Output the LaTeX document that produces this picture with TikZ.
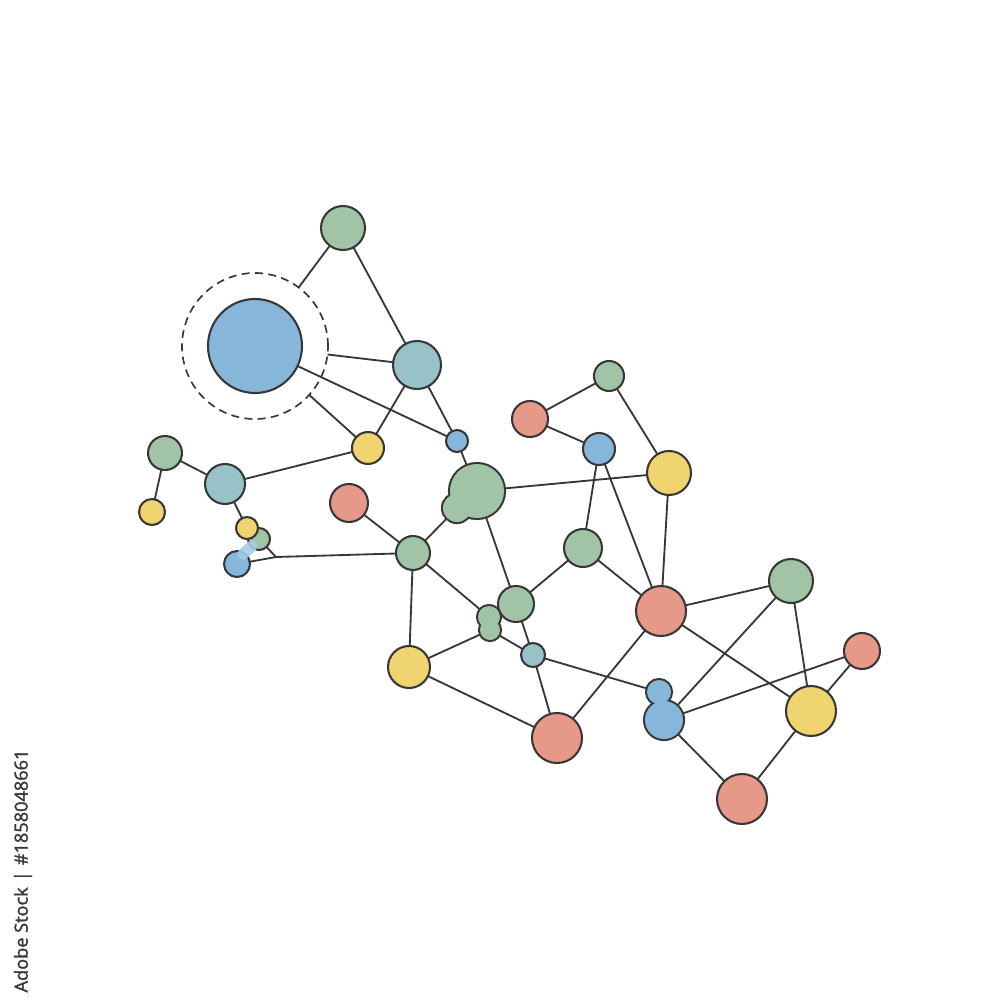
\documentclass[tikz,border=0pt]{standalone}
\usepackage{fontspec}
\newfontfamily\wmfont[FakeBold=1.6]{Open Sans}
\usetikzlibrary{backgrounds}
\definecolor{cblue}{RGB}{134,182,218}
\definecolor{cgreen}{RGB}{161,196,166}
\definecolor{cteal}{RGB}{150,194,200}
\definecolor{cyellow}{RGB}{240,212,112}
\definecolor{cred}{RGB}{230,153,137}
\definecolor{cstroke}{RGB}{55,55,55}
\definecolor{cbridge}{RGB}{165,203,230}
\tikzset{
  dot/.style 2 args={circle, inner sep=0pt, outer sep=0pt, minimum size=#2*0.6mm, fill=#1, draw=cstroke, line width=0.62mm},
  blob/.style 2 args={circle, inner sep=0pt, outer sep=0pt, minimum size=#2*0.6mm, fill=#1, draw=none},
  blobline/.style={draw=cstroke, line width=1.24mm},
  link/.style={draw=cstroke, line width=0.55mm},
}
\begin{document}
\begin{tikzpicture}[x=0.3mm,y=-0.3mm]
\useasboundingbox (0,0) rectangle (1000,1000);

% ring and big node
\node[circle, draw=cstroke, line width=0.5mm, dash pattern=on 2.4mm off 1.6mm, minimum size=73*0.6mm, inner sep=0pt, outer sep=0pt] (ring) at (255,346) {};
\node[dot={cblue}{47}] (bb) at (255,346) {};

\node[dot={cgreen}{22}] (g1) at (343,228) {};
\node[dot={cteal}{24}] (t1) at (417,365) {};
\node[dot={cyellow}{16}] (y1) at (368,448) {};
\node[dot={cblue}{11}] (sb1) at (457,441) {};
\node[blob={cgreen}{27}] (gc) at (477,491) {};
\node[blob={cgreen}{14}] (gcl) at (457,508) {};
\node[dot={cgreen}{17}] (g2) at (165,453) {};
\node[dot={cyellow}{13}] (y2) at (152,512) {};
\node[dot={cteal}{20}] (t2) at (225,484) {};
\node[dot={cgreen}{11}] (g3) at (259,539) {};
\node[dot={cyellow}{11}] (y3) at (247,528) {};
\node[dot={cblue}{13}] (b3) at (237,564) {};
\coordinate (j) at (276,557);
\node[dot={cred}{19}] (r1) at (349,503) {};
\node[dot={cgreen}{17}] (g4) at (413,553) {};
\node[dot={cyellow}{21}] (y4) at (409,667) {};
\node[blob={cgreen}{11}] (gp1) at (489,617) {};
\node[blob={cgreen}{10}] (gp2) at (490,630) {};
\node[dot={cgreen}{18}] (g5) at (516,604) {};
\node[dot={cteal}{12}] (t3) at (533,655) {};
\node[dot={cred}{25}] (r2) at (557,738) {};
\node[dot={cgreen}{19}] (g6) at (583,548) {};
\node[dot={cred}{18}] (r3) at (530,419) {};
\node[dot={cgreen}{15}] (g7) at (609,376) {};
\node[dot={cblue}{16}] (b4) at (599,449) {};
\node[dot={cyellow}{22}] (y5) at (669,473) {};
\node[dot={cred}{25}] (r4) at (661,611) {};
\node[dot={cgreen}{22}] (g8) at (791,581) {};
\node[dot={cred}{18}] (r5) at (862,651) {};
\node[dot={cyellow}{25}] (y6) at (811,711) {};
\node[dot={cred}{25}] (r6) at (742,799) {};
\node[blob={cblue}{12}] (bp1) at (659,692) {};
\node[blob={cblue}{19}] (bp2) at (664,720) {};

\begin{scope}[on background layer]
\path[link] (g1) -- (ring) (g1) -- (t1) (ring) -- (t1) (ring) -- (y1)
  (bb) -- (sb1) (t1) -- (y1) (t1) -- (sb1) (sb1) -- (gc) (y1) -- (t2)
  (g2) -- (t2) (g2) -- (y2) (t2) -- (y3) (gc) -- (y5) (gcl) -- (g4)
  (gc) -- (g5) (r1) -- (g4) (g4) -- (y4) (g4) -- (gp1)
  (b3) -- (j) (g3) -- (j) (j) -- (g4)
  (y4) -- (gp2) (y4) -- (r2) (gp2) -- (t3) (g5) -- (t3) (t3) -- (r2) (t3) -- (bp1)
  (g5) -- (g6) (g6) -- (b4) (g6) -- (r4) (r3) -- (g7) (r3) -- (b4) (g7) -- (y5)
  (b4) -- (r4) (y5) -- (r4) (r4) -- (g8) (r4) -- (y6) (r2) -- (r4)
  (g8) -- (bp2) (g8) -- (y6) (r5) -- (bp2) (r5) -- (y6) (bp2) -- (r6) (y6) -- (r6);
% outlines of merged blobs
\path[blobline] (gc.center) circle[radius=27] (gcl.center) circle[radius=14]
  (gp1.center) circle[radius=11] (gp2.center) circle[radius=10]
  (bp1.center) circle[radius=12] (bp2.center) circle[radius=19];
\end{scope}
% light bridge between small blue and green dots
\path[draw=cbridge, line width=3.4mm, line cap=round, opacity=0.9] (243,554) -- (252,546);

% stock label
\node[rotate=90, font=\wmfont\fontsize{15.5}{17}\selectfont, text=cstroke, inner sep=0pt] (wm) at (23,871) {Adobe Stock\,\,|\,\,\#1858048661};
\end{tikzpicture}
\end{document}
